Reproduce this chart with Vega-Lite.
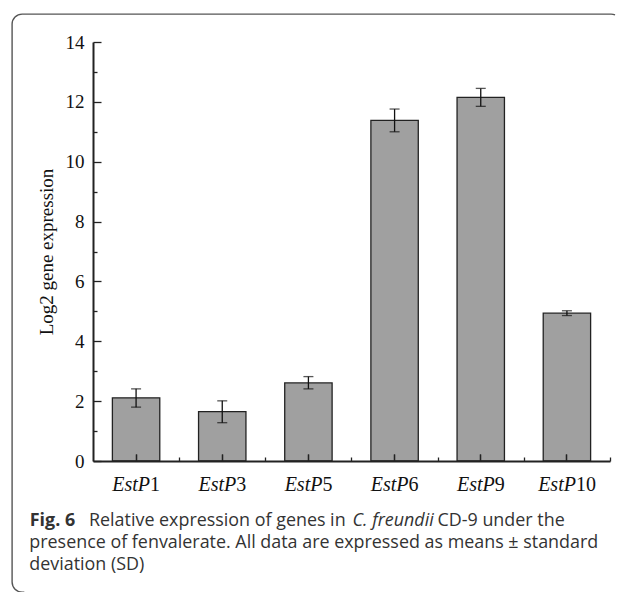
{
  "$schema": "https://vega.github.io/schema/vega-lite/v6.json",
  "width": 609,
  "height": 578,
  "autosize": {"type": "none"},
  "padding": {"left": 12, "top": 14, "right": 0, "bottom": 0},
  "background": "white",
  "view": {"stroke": "#555", "strokeWidth": 1.4, "cornerRadius": 10, "fill": null, "strokeDash": [593, 1172, 700]},
  "title": {
    "text": [
      "presence of fenvalerate. All data are expressed as means \u00b1 standard",
      "deviation (SD)"
    ],
    "orient": "top",
    "anchor": "start",
    "frame": "group",
    "offset": 0,
    "dx": 17.3,
    "dy": 574,
    "baseline": "alphabetic",
    "lineHeight": 22.5,
    "font": "Open Sans",
    "fontSize": 17.9,
    "fontWeight": "normal",
    "color": "#333"
  },
  "data": {
    "values": [
      {"gene": "EstP1", "mean": 2.11, "lo": 1.8, "hi": 2.41},
      {"gene": "EstP3", "mean": 1.65, "lo": 1.28, "hi": 2.01},
      {"gene": "EstP5", "mean": 2.61, "lo": 2.41, "hi": 2.82},
      {"gene": "EstP6", "mean": 11.38, "lo": 11.0, "hi": 11.76},
      {"gene": "EstP9", "mean": 12.15, "lo": 11.85, "hi": 12.45},
      {"gene": "EstP10", "mean": 4.94, "lo": 4.86, "hi": 5.02}
    ]
  },
  "layer": [
    {
      "mark": {"type": "bar", "fill": "#a0a0a0", "stroke": "#222", "strokeWidth": 1.3},
      "encoding": {
        "x": {
          "field": "gene", "type": "nominal", "sort": null,
          "scale": {"range": [81, 598], "paddingInner": 0.45, "paddingOuter": 0.225},
          "axis": {
            "orient": "bottom", "offset": -131, "zindex": 1,
            "labelExpr": "'EstP'", "labelFontStyle": "italic", "labelAlign": "right",
            "labelOffset": {"condition": {"test": "datum.value === 'EstP10'", "value": 9}, "value": 14},
            "labelBaseline": "alphabetic", "labelPadding": 36, "labelAngle": 0,
            "tickSize": -7, "tickWidth": 1.3, "domainWidth": 2,
            "title": "Fig. 6", "titleFont": "Open Sans", "titleFontSize": 17.9, "titleFontWeight": "bold",
            "titleColor": "#333", "titleX": 17.3, "titleY": 64, "titleAlign": "left", "titleBaseline": "alphabetic"
          }
        },
        "y": {
          "field": "mean", "type": "quantitative",
          "scale": {"domain": [0, 14], "range": [447, 28], "nice": false},
          "axis": {
            "orient": "left", "offset": -81, "zindex": 1,
            "values": [0, 2, 4, 6, 8, 10, 12, 14],
            "tickSize": -8, "tickWidth": 1.3, "domainWidth": 2, "labelPadding": 17, "labelFontSize": 19,
            "title": "Log2 gene expression", "titleFont": "Liberation Serif", "titleFontSize": 19,
            "titleFontWeight": "normal", "titleColor": "#111", "titleX": -41, "titleY": 237.5,
            "titleAngle": -90, "titleAlign": "center", "titleBaseline": "alphabetic"
          }
        }
      }
    },
    {
      "mark": {"type": "rule", "color": "#111", "strokeWidth": 1.3},
      "encoding": {
        "x": {
          "field": "gene", "type": "nominal", "sort": null,
          "axis": {
            "orient": "bottom", "offset": -131, "zindex": 1, "domain": false,
            "labelExpr": "replace(datum.label, 'EstP', '')", "labelFontStyle": "normal", "labelAlign": "left",
            "labelOffset": {"condition": {"test": "datum.value === 'EstP10'", "value": 9}, "value": 14},
            "labelBaseline": "alphabetic", "labelPadding": 36, "labelAngle": 0,
            "tickSize": -7, "tickWidth": 1.3,
            "title": "C. freundii", "titleFont": "Open Sans", "titleFontSize": 17.9, "titleFontStyle": "italic",
            "titleFontWeight": "normal", "titleColor": "#333", "titleX": 340, "titleY": 64,
            "titleAlign": "left", "titleBaseline": "alphabetic"
          }
        },
        "y": {
          "field": "lo", "type": "quantitative",
          "axis": {
            "orient": "left", "offset": -81, "zindex": 1, "values": [1, 3, 5, 7, 9, 11, 13],
            "labels": false, "domain": false, "tickSize": -4, "tickWidth": 1.3,
            "title": "Relative expression of genes in", "titleFont": "Open Sans", "titleFontSize": 17.9,
            "titleFontWeight": "normal", "titleColor": "#333", "titleAngle": 0, "titleX": -4.5, "titleY": 511,
            "titleAlign": "left", "titleBaseline": "alphabetic"
          }
        },
        "y2": {"field": "hi"}
      }
    },
    {
      "mark": {"type": "tick", "color": "#111", "thickness": 1.3, "size": 10},
      "encoding": {
        "x": {
          "field": "gene", "type": "nominal", "sort": null,
          "axis": {
            "orient": "bottom", "offset": -131, "zindex": 1, "labels": false, "domain": false,
            "tickOffset": 43.08, "tickSize": -4, "tickWidth": 1.3,
            "title": "CD-9 under the", "titleFont": "Open Sans", "titleFontSize": 17.9,
            "titleFontWeight": "normal", "titleColor": "#333", "titleX": 425, "titleY": 64,
            "titleAlign": "left", "titleBaseline": "alphabetic"
          }
        },
        "y": {"field": "lo", "type": "quantitative", "axis": null}
      }
    },
    {
      "mark": {"type": "tick", "color": "#111", "thickness": 1.3, "size": 10},
      "encoding": {
        "x": {"field": "gene", "type": "nominal", "sort": null, "axis": null},
        "y": {"field": "hi", "type": "quantitative", "axis": null}
      }
    }
  ],
  "resolve": {"axis": {"x": "independent", "y": "independent"}},
  "config": {
    "axis": {
      "labelFont": "Liberation Serif", "labelFontSize": 20, "labelColor": "#111",
      "domainColor": "#222", "tickColor": "#222", "grid": false
    }
  }
}
